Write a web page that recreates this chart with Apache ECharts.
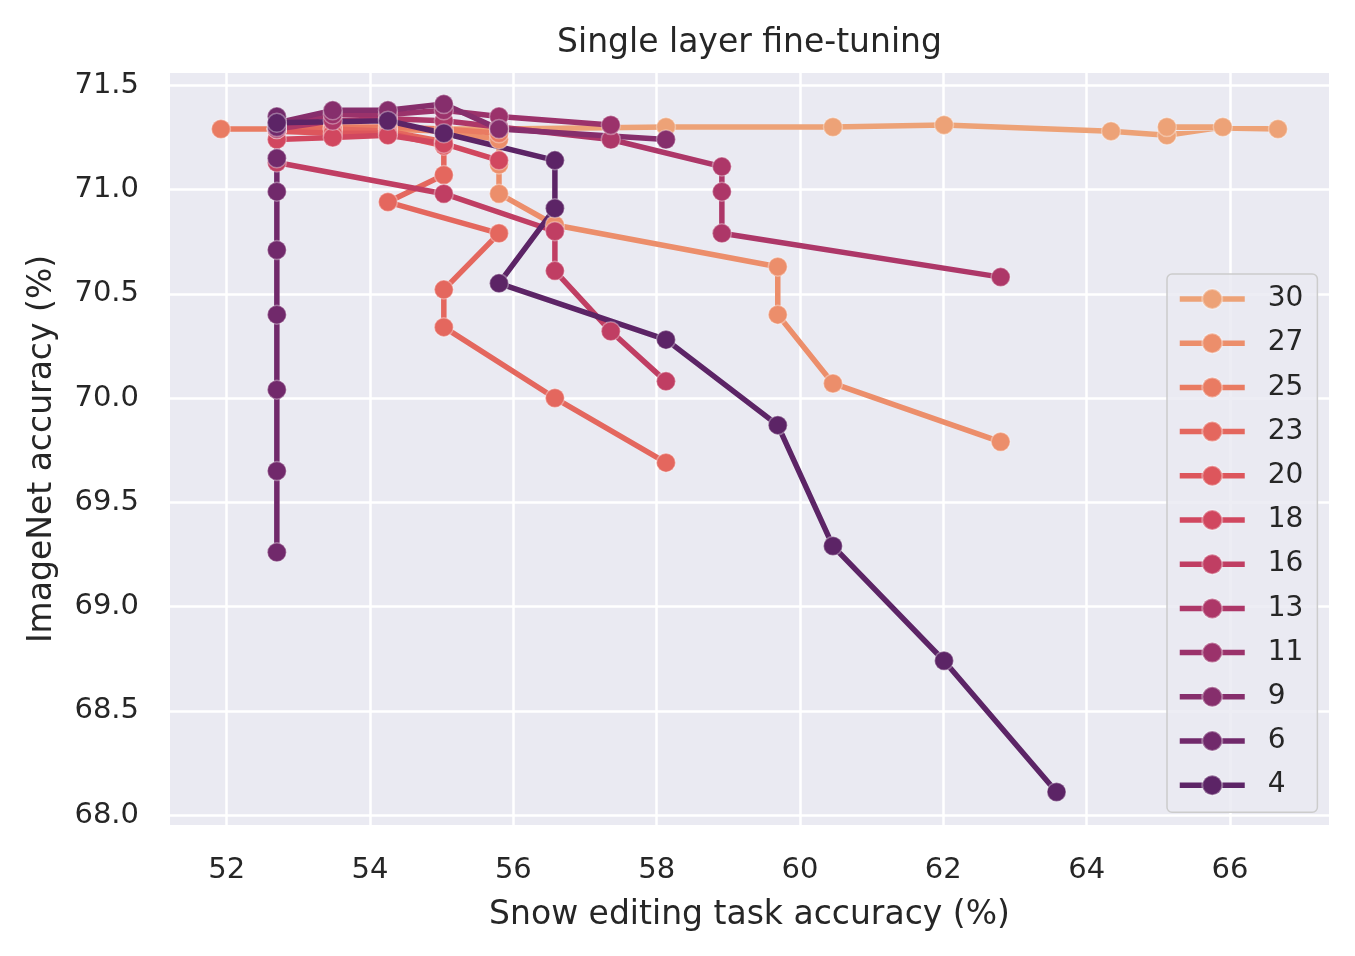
<!DOCTYPE html>
<html>
<head>
<meta charset="utf-8">
<title>Single layer fine-tuning</title>
<script src="https://cdn.jsdelivr.net/npm/echarts@6/dist/echarts.min.js"></script>
<style>
  html, body { margin: 0; padding: 0; background: #fff; }
  #chart { width: 1355px; height: 956px; }
</style>
</head>
<body>
<div id="chart"></div>
<script>
// layer labels, in legend order
var layers = ['30', '27', '25', '23', '20', '18', '16', '13', '11', '9', '6', '4']

// flare palette, light to dark
var colors = ['#eda277', '#ec8e6b', '#e97b62', '#e4675e', '#dd565c', '#d1475f',
              '#c03e63', '#ad3768', '#9b326b', '#862e6c', '#71296b', '#5c2466']

// snow editing task accuracy (x) and ImageNet accuracy (y) per layer
var snow30  = [52.70, 54.25, 55.80, 58.13, 60.46, 62.01, 64.34, 65.12, 65.90, 65.12, 66.67]
var imnet30 = [71.29, 71.29, 71.29, 71.30, 71.30, 71.31, 71.28, 71.26, 71.30, 71.30, 71.29]

var snow27  = [52.70, 53.48, 54.25, 55.03, 55.80, 55.80, 55.80, 56.58, 59.69, 59.69, 60.46, 62.80]
var imnet27 = [71.29, 71.29, 71.29, 71.28, 71.24, 71.12, 70.98, 70.83, 70.63, 70.40, 70.07, 69.79]

var snow25  = [51.92, 52.70, 53.48, 54.25, 55.03, 55.80]
var imnet25 = [71.29, 71.29, 71.30, 71.30, 71.29, 71.27]

var snow23  = [52.70, 53.48, 54.25, 55.03, 55.03, 54.25, 55.80, 55.03, 55.03, 56.58, 58.13]
var imnet23 = [71.29, 71.29, 71.28, 71.23, 71.07, 70.94, 70.79, 70.52, 70.34, 70.00, 69.69]

var snow20  = [52.70, 53.48, 54.25, 55.03]
var imnet20 = [71.28, 71.27, 71.27, 71.21]

var snow18  = [52.70, 53.48, 54.25, 55.03, 55.80]
var imnet18 = [71.24, 71.25, 71.26, 71.22, 71.14]

var snow16  = [52.70, 52.70, 55.03, 56.58, 56.58, 57.36, 58.13]
var imnet16 = [71.29, 71.13, 70.98, 70.80, 70.61, 70.32, 70.08]

var snow13  = [52.70, 53.48, 54.25, 55.03, 55.80, 57.36, 58.91, 58.91, 58.91, 62.80]
var imnet13 = [71.29, 71.33, 71.34, 71.33, 71.30, 71.24, 71.11, 70.99, 70.79, 70.58]

var snow11  = [52.70, 53.48, 54.25, 55.03, 55.80, 57.36]
var imnet11 = [71.31, 71.36, 71.36, 71.38, 71.35, 71.31]

var snow9   = [52.70, 53.48, 54.25, 55.03, 55.80, 58.13]
var imnet9  = [71.32, 71.38, 71.38, 71.41, 71.29, 71.24]

var snow6   = [52.70, 52.70, 52.70, 52.70, 52.70, 52.70, 52.70, 52.70, 52.70]
var imnet6  = [71.35, 71.30, 71.15, 70.99, 70.71, 70.40, 70.04, 69.65, 69.26]

var snow4   = [52.70, 54.25, 55.03, 56.58, 56.58, 55.80, 58.13, 59.69, 60.46, 62.01, 63.58]
var imnet4  = [71.32, 71.33, 71.27, 71.14, 70.91, 70.55, 70.28, 69.87, 69.29, 68.74, 68.11]

var xTicks = [52, 54, 56, 58, 60, 62, 64, 66]
var yTicks = [68.0, 68.5, 69.0, 69.5, 70.0, 70.5, 71.0, 71.5]

var snowLists  = [snow30, snow27, snow25, snow23, snow20, snow18, snow16, snow13, snow11, snow9, snow6, snow4]
var imnetLists = [imnet30, imnet27, imnet25, imnet23, imnet20, imnet18, imnet16, imnet13, imnet11, imnet9, imnet6, imnet4]

var FONT = 'DejaVu Sans'
var INK = '#262626'
var LINE_W = 5.5

var chart = echarts.init(document.getElementById('chart'), null, { renderer: 'canvas' })

var series = layers.map(function(name, i) {
  var xs = snowLists[i], ys = imnetLists[i]
  return {
    name: name,
    type: 'line',
    data: xs.map(function(x, k) { return [x, ys[k]] }),
    symbol: 'circle',
    symbolSize: 19,
    showSymbol: true,
    showAllSymbol: true,
    lineStyle: { color: colors[i], width: LINE_W },
    itemStyle: { color: colors[i], borderColor: 'rgba(255,255,255,0.35)', borderWidth: 1.5 },
    emphasis: { disabled: true },
    animation: false
  }
})

chart.setOption({
  backgroundColor: '#ffffff',
  animation: false,
  color: colors,
  textStyle: { fontFamily: FONT, color: INK },
  title: {
    text: 'Single layer fine-tuning',
    left: 744.5,
    textAlign: 'center',
    top: 22,
    textStyle: { fontFamily: FONT, fontSize: 33, fontWeight: 'normal', color: INK }
  },
  grid: {
    left: 170, right: 26, top: 73, bottom: 131,
    show: true, backgroundColor: '#eaeaf2', borderWidth: 0
  },
  legend: {
    orient: 'vertical',
    left: 1167, top: 274,
    padding: [11, 14, 13, 10],
    itemWidth: 65, itemHeight: 25, itemGap: 16.2,
    backgroundColor: 'rgba(234,234,242,0.85)',
    borderColor: '#cccccc', borderWidth: 1.5, borderRadius: 5,
    lineStyle: { width: LINE_W },
    textStyle: { fontFamily: FONT, fontSize: 28, color: INK, padding: [0, 0, 0, 18] },
    data: layers
  },
  xAxis: {
    type: 'value',
    min: 51.209, max: 67.382,
    name: 'Snow editing task accuracy (%)',
    nameLocation: 'middle',
    nameGap: 74,
    nameTextStyle: { fontFamily: FONT, fontSize: 33, color: INK },
    axisLine: { show: false },
    axisTick: { show: false, customValues: xTicks },
    axisLabel: { customValues: xTicks, margin: 31, fontFamily: FONT, fontSize: 29, color: INK },
    splitLine: { show: true, lineStyle: { color: '#ffffff', width: 2.5 } }
  },
  yAxis: {
    type: 'value',
    min: 67.952, max: 71.559,
    name: 'ImageNet accuracy (%)',
    nameLocation: 'middle',
    nameGap: 111,
    nameTextStyle: { fontFamily: FONT, fontSize: 33, color: INK },
    axisLine: { show: false },
    axisTick: { show: false, customValues: yTicks },
    axisLabel: {
      customValues: yTicks, margin: 31, fontFamily: FONT, fontSize: 29, color: INK,
      formatter: function(v) { return v.toFixed(1) }
    },
    splitLine: { show: true, lineStyle: { color: '#ffffff', width: 2.5 } }
  },
  series: series
})
</script>
</body>
</html>
